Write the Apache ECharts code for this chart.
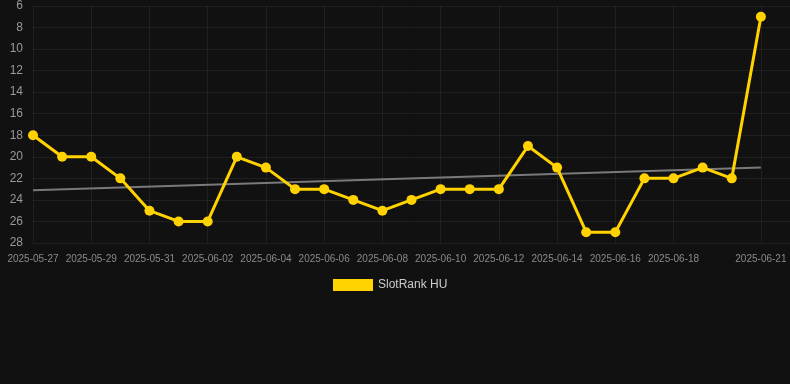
<!DOCTYPE html>
<html>
<head>
<meta charset="utf-8">
<script src="https://cdn.jsdelivr.net/npm/echarts@6/dist/echarts.min.js"></script>
<style>
html,body{margin:0;padding:0;background:#111111;}
#chart{width:790px;height:384px;}
</style>
</head>
<body>
<div id="chart"></div>
<script>
var dates = ['2025-05-27','2025-05-28','2025-05-29','2025-05-30','2025-05-31','2025-06-01','2025-06-02','2025-06-03','2025-06-04','2025-06-05','2025-06-06','2025-06-07','2025-06-08','2025-06-09','2025-06-10','2025-06-11','2025-06-12','2025-06-13','2025-06-14','2025-06-15','2025-06-16','2025-06-17','2025-06-18','2025-06-19','2025-06-20','2025-06-21'];
var rankHU = [18,20,20,22,25,26,26,20,21,23,23,24,25,24,23,23,23,19,21,27,27,22,22,21,22,7];
var trendStart = 23.1;
var trendEnd = 21.0;
var seriesName = 'SlotRank HU';
var yTicks = [6,8,10,12,14,16,18,20,22,24,26,28];

var xCats = dates.concat(['']);
function shown(i){ return (i % 2 === 0 && i < dates.length - 2) || i === dates.length - 1; }

var trendData = [[dates[0], trendStart], [dates[dates.length-1], trendEnd]];

var chart = echarts.init(document.getElementById('chart'));
chart.setOption({
  backgroundColor: '#111111',
  animation: false,
  grid: {left: 33, right: 0, top: 6, bottom: 141, containLabel: false},
  legend: {
    data: [seriesName],
    left: 333, top: 279, padding: 0,
    icon: 'rect', itemWidth: 40, itemHeight: 12, itemGap: 10,
    textStyle: {color: '#cccccc', fontSize: 12, fontFamily: 'Liberation Sans, Arial, sans-serif'}
  },
  xAxis: {
    type: 'category',
    data: xCats,
    boundaryGap: false,
    axisLine: {show: false},
    axisTick: {show: false},
    axisLabel: {
      interval: function(i){ return shown(i); },
      color: '#8a8a8a', fontSize: 10, margin: 11,
      fontFamily: 'Liberation Sans, Arial, sans-serif'
    },
    splitLine: {
      show: true,
      interval: function(i){ return shown(i); },
      lineStyle: {color: 'rgba(255,255,255,0.06)', width: 1}
    }
  },
  yAxis: {
    type: 'value',
    inverse: true,
    min: yTicks[0], max: yTicks[yTicks.length-1], interval: 2,
    axisLine: {show: false},
    axisTick: {show: false},
    axisLabel: {color: '#999999', fontSize: 12, margin: 10, fontFamily: 'Liberation Sans, Arial, sans-serif'},
    splitLine: {show: true, lineStyle: {color: 'rgba(255,255,255,0.06)', width: 1}}
  },
  series: [
    {
      name: 'trend',
      type: 'line',
      data: trendData,
      symbol: 'none',
      lineStyle: {color: '#7a7a7a', width: 2},
      silent: true,
      z: 1
    },
    {
      name: seriesName,
      type: 'line',
      data: rankHU,
      symbol: 'circle',
      symbolSize: 10,
      itemStyle: {color: '#FFD200'},
      lineStyle: {color: '#FFD200', width: 3},
      z: 3
    }
  ]
});
</script>
</body>
</html>
